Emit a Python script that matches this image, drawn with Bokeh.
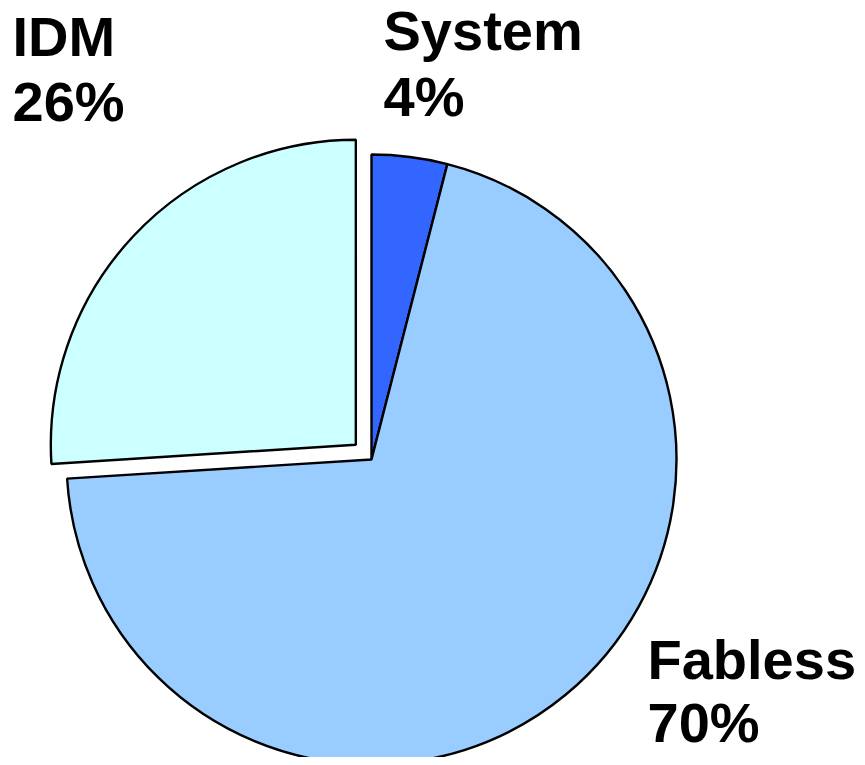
import math
from bokeh.plotting import figure
from bokeh.models import Range1d, ColumnDataSource
from bokeh.core.properties import value
from bokeh.embed import file_html
from bokeh.resources import INLINE

categories = ["System", "Fabless", "IDM"]
shares = [4, 70, 26]
colors = ["#3366FF", "#99CCFF", "#CCFFFF"]
explode = [0, 0, 21.5]

W, H = 857, 757
cx, cy, R = 371, 298, 305

p = figure(width=W, height=H, output_backend="svg", toolbar_location=None,
           x_range=Range1d(0, W), y_range=Range1d(0, H), min_border=0)
p.axis.visible = False
p.grid.visible = False
p.outline_line_color = None
p.background_fill_color = "white"
p.border_fill_color = "white"

total = float(sum(shares))
xs, ys, starts, ends = [], [], [], []
a = math.pi / 2
for s, ex in zip(shares, explode):
    sweep = 2 * math.pi * s / total
    end = a
    start = a - sweep
    mid = (start + end) / 2
    xs.append(cx + ex * math.cos(mid))
    ys.append(cy + ex * math.sin(mid))
    starts.append(start)
    ends.append(end)
    a = start

src = ColumnDataSource(dict(x=xs, y=ys, start=starts, end=ends, color=colors))
p.wedge(x="x", y="y", radius=R, start_angle="start", end_angle="end",
        direction="anticlock", fill_color="color", line_color="black",
        line_width=2.4, source=src)

# label anchors (name line) and gap to the percentage line
label_pos = {"System": (383, 727, 66), "Fabless": (647, 98, 63), "IDM": (12, 721, 65)}
tx, ty, tt = [], [], []
for c, s in zip(categories, shares):
    lx, ly, gap = label_pos[c]
    tx += [lx, lx]
    ty += [ly, ly - gap]
    tt += [c, f"{s}%"]

p.text(x=tx, y=ty, text=tt, text_font=value("Liberation Sans"),
       text_font_style="bold", text_font_size="56px", text_color="black",
       text_baseline="alphabetic", text_align="left")

open("out.html", "w").write(file_html(p, INLINE))
